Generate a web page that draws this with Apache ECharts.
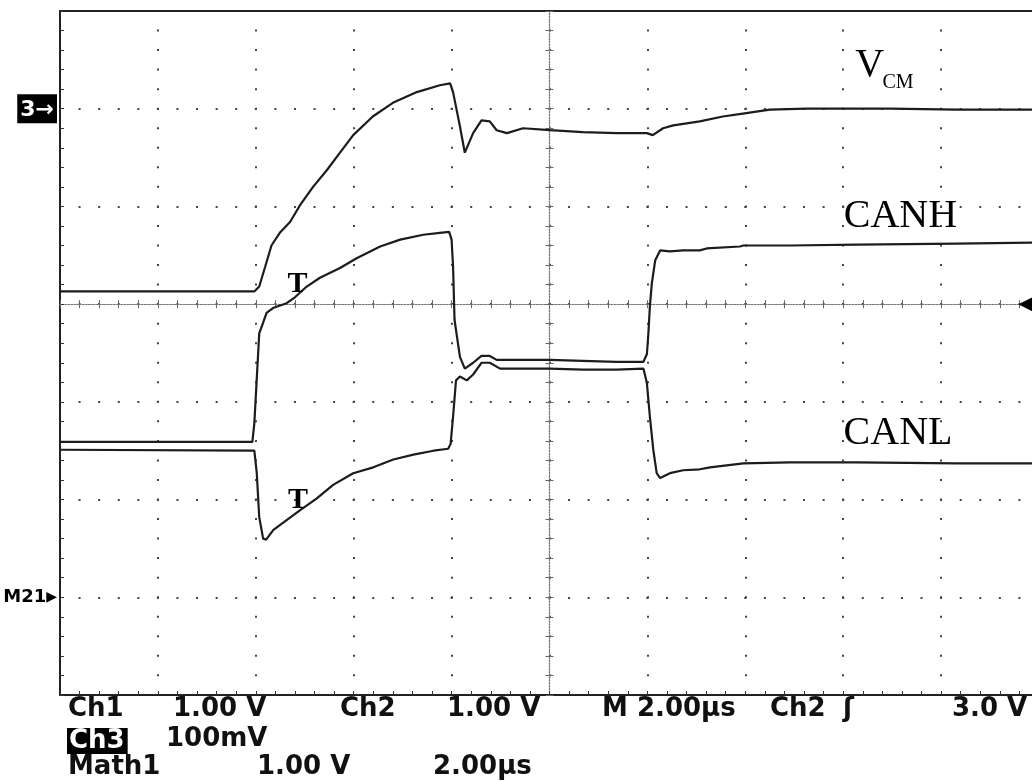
<!DOCTYPE html>
<html><head><meta charset="utf-8">
<script src="https://cdn.jsdelivr.net/npm/echarts@6/dist/echarts.min.js"></script>
<style>html,body{margin:0;padding:0;background:#fff}#c{width:1032px;height:782px}</style>
</head><body><div id="c"></div>
<script>
// Time in microseconds (2 µs/div, trigger at 0); amplitude in screen divisions (0 = centre line)
const vcmTime = [-10, -6.03, -5.93, -5.81, -5.68, -5.51, -5.30, -5.10, -4.83, -4.55, -4.28, -4.01, -3.61, -3.20, -2.71, -2.24, -2.03, -1.97, -1.83, -1.73, -1.56, -1.39, -1.22, -1.08, -0.87, -0.54, 0.01, 0.68, 1.37, 1.99, 2.11, 2.32, 2.53, 3.07, 3.54, 3.95, 4.50, 5.25, 5.93, 6.96, 8.32, 10];
const vcmDiv  = [0.13, 0.13, 0.18, 0.38, 0.60, 0.73, 0.84, 1.01, 1.20, 1.37, 1.55, 1.73, 1.92, 2.06, 2.17, 2.24, 2.26, 2.17, 1.82, 1.55, 1.75, 1.88, 1.87, 1.78, 1.75, 1.80, 1.78, 1.76, 1.75, 1.75, 1.73, 1.80, 1.83, 1.87, 1.92, 1.95, 1.99, 2.00, 2.00, 2.00, 1.99, 1.99];

const canhTime = [-10, -6.07, -6.03, -5.93, -5.85, -5.78, -5.65, -5.37, -5.20, -4.96, -4.69, -4.28, -3.94, -3.46, -3.05, -2.58, -2.24, -2.05, -2.00, -1.97, -1.94, -1.90, -1.83, -1.73, -1.56, -1.39, -1.22, -1.08, -0.67, 0.01, 0.68, 1.37, 1.92, 1.99, 2.02, 2.05, 2.09, 2.16, 2.26, 2.46, 2.73, 3.07, 3.21, 3.89, 3.96, 4.91, 6.28, 8.32, 10];
const canhDiv  = [-1.41, -1.41, -1.22, -0.30, -0.19, -0.09, -0.04, 0.01, 0.07, 0.18, 0.27, 0.37, 0.47, 0.59, 0.66, 0.71, 0.73, 0.74, 0.66, 0.38, -0.16, -0.30, -0.54, -0.66, -0.60, -0.53, -0.53, -0.57, -0.57, -0.57, -0.58, -0.59, -0.59, -0.51, -0.30, -0.03, 0.21, 0.45, 0.55, 0.54, 0.55, 0.55, 0.57, 0.59, 0.60, 0.60, 0.61, 0.62, 0.63];

const canlTime = [-10, -6.03, -5.98, -5.93, -5.85, -5.79, -5.64, -5.37, -5.10, -4.76, -4.42, -4.01, -3.60, -3.19, -2.78, -2.37, -2.07, -2.02, -1.97, -1.91, -1.83, -1.69, -1.56, -1.39, -1.22, -1.01, -0.67, 0.01, 0.68, 1.37, 1.92, 1.99, 2.05, 2.12, 2.19, 2.26, 2.46, 2.73, 3.07, 3.28, 3.96, 4.91, 6.28, 8.32, 10];
const canlDiv  = [-1.49, -1.50, -1.73, -2.18, -2.40, -2.41, -2.31, -2.21, -2.11, -1.99, -1.85, -1.73, -1.67, -1.59, -1.54, -1.50, -1.48, -1.43, -1.15, -0.78, -0.74, -0.78, -0.72, -0.60, -0.60, -0.66, -0.66, -0.66, -0.67, -0.67, -0.66, -0.81, -1.15, -1.49, -1.73, -1.78, -1.73, -1.70, -1.69, -1.67, -1.63, -1.62, -1.62, -1.63, -1.63];

// Axis ranges (divisions shown on screen)
const timeRange = [-10, 10];   // µs, 10 div
const divRange  = [-4, 3];     // visible vertical divisions

// Readout texts
const readoutRow1 = ['Ch1', '1.00 V', 'Ch2', '1.00 V', 'M 2.00µs', 'Ch2', 'ʃ', '3.0 V'];
const readoutRow2 = ['Ch3', '100mV'];
const readoutRow3 = ['Math1', '1.00 V', '2.00µs'];

const zip = (t, v) => t.map((x, i) => [x, v[i]]);

const frameColor = '#222';
const dotColor = '#444';
const monoFont = '"DejaVu Sans"';
const serif = '"Liberation Serif"';

function xBase(extra) {
  return Object.assign({
    type: 'value', min: timeRange[0], max: timeRange[1], interval: 2,
    axisLabel: { show: false }, splitLine: { show: false },
    axisTick: { show: false }, minorTick: { show: false }
  }, extra);
}
function yBase(extra) {
  return Object.assign({
    type: 'value', min: divRange[0], max: divRange[1], interval: 1,
    axisLabel: { show: false }, splitLine: { show: false },
    axisTick: { show: false }, minorTick: { show: false }
  }, extra);
}
const tickStyle = { color: '#333', width: 1 };
const centerTick = { color: '#666', width: 1 };
const centerLine = { color: '#777', width: 1.2, type: [1.2, 1.6] };

function centerX(inside) {
  return xBase({
    position: 'bottom',
    axisLine: { show: true, onZero: true, onZeroAxisIndex: 0, lineStyle: centerLine },
    axisTick: { show: true, inside: inside, length: 4, lineStyle: centerTick },
    minorTick: { show: true, splitNumber: 5, length: 4, lineStyle: centerTick }
  });
}
function centerY(inside) {
  return yBase({
    position: 'left',
    axisLine: { show: true, onZero: true, onZeroAxisIndex: 0, lineStyle: centerLine },
    axisTick: { show: true, inside: inside, length: 4, lineStyle: centerTick },
    minorTick: { show: true, splitNumber: 5, length: 4, lineStyle: centerTick }
  });
}

function traceSeries(name, t, v, marks) {
  return {
    name: name, type: 'line', xAxisIndex: 0, yAxisIndex: 0,
    data: zip(t, v), symbol: 'none', showSymbol: false, silent: true,
    lineStyle: { color: '#1c1c1c', width: 2.2 },
    markPoint: {
      symbol: 'circle', symbolSize: 0, silent: true, animation: false,
      label: { show: true, position: 'inside', color: '#000', textBorderWidth: 0 },
      data: marks
    }
  };
}
function mark(coord, text, size, bold) {
  return {
    coord: coord,
    label: { formatter: text, fontFamily: serif, fontSize: size, fontWeight: bold ? 'bold' : 'normal', color: '#000' }
  };
}

const option = {
  animation: false,
  backgroundColor: '#fff',
  grid: { left: 60, top: 11, width: 979, height: 684, outerBoundsMode: 'none' },
  xAxis: [
    xBase({
      position: 'bottom',
      axisLine: { show: true, onZero: false, lineStyle: { color: frameColor, width: 2 } },
      axisTick: { show: true, inside: true, length: 4, lineStyle: tickStyle },
      minorTick: { show: true, splitNumber: 5, length: 4, lineStyle: tickStyle },
      splitLine: { show: true, lineStyle: { color: dotColor, width: 2, type: [2, 17.54], dashOffset: 1 } }
    }),
    centerX(true),
    centerX(false),
    xBase({
      position: 'top',
      axisLine: { show: true, onZero: false, lineStyle: { color: frameColor, width: 2 } }
    })
  ],
  yAxis: [
    yBase({
      position: 'left',
      axisLine: { show: true, onZero: false, lineStyle: { color: frameColor, width: 2 } },
      axisTick: { show: true, inside: true, length: 4, lineStyle: tickStyle },
      minorTick: { show: true, splitNumber: 5, length: 4, lineStyle: tickStyle },
      splitLine: { show: true, lineStyle: { color: dotColor, width: 2, type: [2, 17.58], dashOffset: 1 } },
      axisLabel: {
        show: true, margin: 3,
        formatter: function (v) {
          if (Math.abs(v - 2) < 1e-6) return '{b|3→}';
          if (Math.abs(v + 3) < 1e-6) return '{m|M21}{t|▶}';
          return '';
        },
        rich: {
          b: { color: '#fff', backgroundColor: '#000', fontFamily: monoFont, fontWeight: 'bold', fontSize: 22, padding: [5, 3, 2, 3] },
          m: { color: '#000', fontFamily: monoFont, fontWeight: 'bold', fontSize: 18 },
          t: { color: '#000', fontFamily: monoFont, fontSize: 14 }
        }
      }
    }),
    centerY(true),
    centerY(false),
    yBase({
      position: 'right',
      axisLine: { show: false, onZero: false },
      axisLabel: {
        show: true, inside: true, margin: 7, color: '#000', fontFamily: monoFont, fontSize: 18,
        formatter: function (v) { return Math.abs(v) < 1e-6 ? '◀' : ''; }
      }
    })
  ],
  series: [
    traceSeries('VCM', vcmTime, vcmDiv, [
      mark([6.54, 2.447], 'V', 40, false),
      mark([7.12, 2.268], 'CM', 20, false)
    ]),
    traceSeries('CANH', canhTime, canhDiv, [
      mark([7.17, 0.894], 'CANH', 40, false),
      mark([-5.15, 0.206], 'T', 30, true)
    ]),
    traceSeries('CANL', canlTime, canlDiv, [
      mark([7.12, -1.319], 'CANL', 40, false),
      mark([-5.14, -2.005], 'T', 30, true)
    ])
  ],
  graphic: []
};

const row1X = [68, 173, 340, 447, 602, 770, 843, 952];
const row3X = [68, 257, 433];
const txtFont = 'bold 26px ' + monoFont;
readoutRow1.forEach((s, i) => option.graphic.push({
  type: 'text', silent: true, style: { text: s, x: row1X[i], y: 709.5, font: txtFont, fill: '#111', verticalAlign: 'middle', align: 'left' }
}));
option.graphic.push({
  type: 'text', silent: true, style: { text: readoutRow2[0], x: 67, y: 741, font: txtFont, fill: '#fff', backgroundColor: '#000', padding: [0, 3, 0, 2], verticalAlign: 'middle', align: 'left' }
});
option.graphic.push({
  type: 'text', silent: true, style: { text: readoutRow2[1], x: 166, y: 739, font: txtFont, fill: '#111', verticalAlign: 'middle', align: 'left' }
});
readoutRow3.forEach((s, i) => option.graphic.push({
  type: 'text', silent: true, style: { text: s, x: row3X[i], y: 767, font: txtFont, fill: '#111', verticalAlign: 'middle', align: 'left' }
}));

const chart = echarts.init(document.getElementById('c'), null, { renderer: 'canvas' });
chart.setOption(option);
</script>
</body></html>
